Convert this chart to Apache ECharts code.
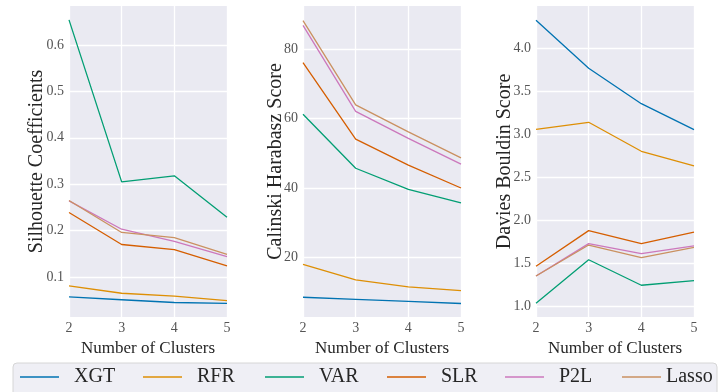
<!DOCTYPE html>
<html>
<head>
<meta charset="utf-8">
<script src="https://cdn.jsdelivr.net/npm/echarts@6/dist/echarts.min.js"></script>
<style>
  html, body { margin: 0; padding: 0; background: #ffffff; }
  #chart { width: 726px; height: 392px; }
</style>
</head>
<body>
<div id="chart"></div>
<script>
// Number of clusters on the x axis
const clusters = [2, 3, 4, 5];
const methods = ['XGT', 'RFR', 'VAR', 'SLR', 'P2L', 'Lasso'];
const colors = ['#0173b2', '#de8f05', '#029e73', '#d55e00', '#cc78bc', '#ca9161'];

// Silhouette coefficients per method
const silXGT   = [0.057, 0.051, 0.045, 0.043];
const silRFR   = [0.081, 0.065, 0.059, 0.049];
const silVAR   = [0.654, 0.305, 0.318, 0.229];
const silSLR   = [0.239, 0.170, 0.159, 0.124];
const silP2L   = [0.264, 0.203, 0.177, 0.144];
const silLasso = [0.265, 0.196, 0.185, 0.149];

// Calinski-Harabasz scores per method
const chXGT   = [8.5, 7.9, 7.3, 6.7];
const chRFR   = [18.0, 13.5, 11.5, 10.4];
const chVAR   = [61.3, 45.7, 39.6, 35.7];
const chSLR   = [76.2, 54.1, 46.6, 40.0];
const chP2L   = [86.9, 62.1, 54.3, 46.9];
const chLasso = [88.3, 64.0, 56.2, 48.7];

// Davies-Bouldin scores per method
const dbXGT   = [4.322, 3.764, 3.352, 3.050];
const dbRFR   = [3.054, 3.136, 2.799, 2.628];
const dbVAR   = [1.031, 1.538, 1.241, 1.294];
const dbSLR   = [1.462, 1.876, 1.725, 1.860];
const dbP2L   = [1.349, 1.725, 1.608, 1.698];
const dbLasso = [1.349, 1.709, 1.562, 1.682];

const panels = [
  { title: 'Silhouette Coefficients', min: 0.0138, max: 0.684, split: 7, dec: 1, gap: 22,
    values: [silXGT, silRFR, silVAR, silSLR, silP2L, silLasso] },
  { title: 'Calinski Harabasz Score', min: 2.8, max: 92.5, split: 4, dec: 0, gap: 17,
    values: [chXGT, chRFR, chVAR, chSLR, chP2L, chLasso] },
  { title: 'Davies Bouldin Score', min: 0.872, max: 4.488, split: 7, dec: 1, gap: 21,
    values: [dbXGT, dbRFR, dbVAR, dbSLR, dbP2L, dbLasso] }
];

const FONT = '"Liberation Serif", "DejaVu Serif", serif';
const gridLefts = [69, 303, 536];

const grid = [], xAxis = [], yAxis = [], series = [];
panels.forEach((p, i) => {
  grid.push({ left: gridLefts[i], top: 6, width: 158, height: 311,
              show: true, backgroundColor: '#eaeaf2', borderWidth: 0 });
  xAxis.push({
    type: 'value', gridIndex: i, min: 2, max: 5, interval: 1,
    name: 'Number of Clusters', nameLocation: 'middle', nameGap: 14,
    nameTextStyle: { fontFamily: FONT, fontSize: 17, color: '#262626' },
    axisLine: { show: false }, axisTick: { show: false },
    axisLabel: { fontFamily: FONT, fontSize: 14, color: '#555555', margin: 4 },
    splitLine: { show: true, lineStyle: { color: '#ffffff', width: 1.3 } }
  });
  yAxis.push({
    type: 'value', gridIndex: i, min: p.min, max: p.max, splitNumber: p.split,
    name: p.title, nameLocation: 'middle', nameGap: p.gap, nameMoveOverlap: false,
    nameTextStyle: { fontFamily: FONT, fontSize: 20, color: '#262626' },
    axisLine: { show: false }, axisTick: { show: false },
    axisLabel: { fontFamily: FONT, fontSize: 14, color: '#555555', margin: 5,
                 showMinLabel: false, showMaxLabel: false,
                 formatter: v => v.toFixed(p.dec) },
    splitLine: { show: true, showMinLine: false, showMaxLine: false,
                 lineStyle: { color: '#ffffff', width: 1.3 } }
  });
  methods.forEach((m, k) => {
    series.push({
      type: 'line', name: m, xAxisIndex: i, yAxisIndex: i,
      symbol: 'none', color: colors[k],
      lineStyle: { width: 1.3, color: colors[k] },
      data: clusters.map((c, j) => [c, p.values[k][j]]),
      animation: false
    });
  });
});

// One legend per entry so the entries sit evenly along the frame
const legendLefts = [20, 143, 265, 387, 505, 622];
const legend = methods.map((m, k) => ({
  data: [m], left: legendLefts[k], top: 367, orient: 'horizontal',
  icon: 'rect', itemWidth: 39, itemHeight: 1.4, padding: 0,
  textStyle: { fontFamily: FONT, fontSize: 20, color: '#262626',
               padding: [0, 0, 0, m === 'Lasso' ? 0 : 10] }
}));

const chart = echarts.init(document.getElementById('chart'), null, { renderer: 'canvas' });
chart.setOption({
  backgroundColor: '#ffffff',
  animation: false,
  graphic: [{
    type: 'rect', left: 12.5, top: 362.5, z: -1,
    shape: { width: 704, height: 40, r: 4 },
    style: { fill: '#efeff5', stroke: '#d6d6d6', lineWidth: 1 }
  }],
  grid, xAxis, yAxis, legend, series
});
</script>
</body>
</html>
